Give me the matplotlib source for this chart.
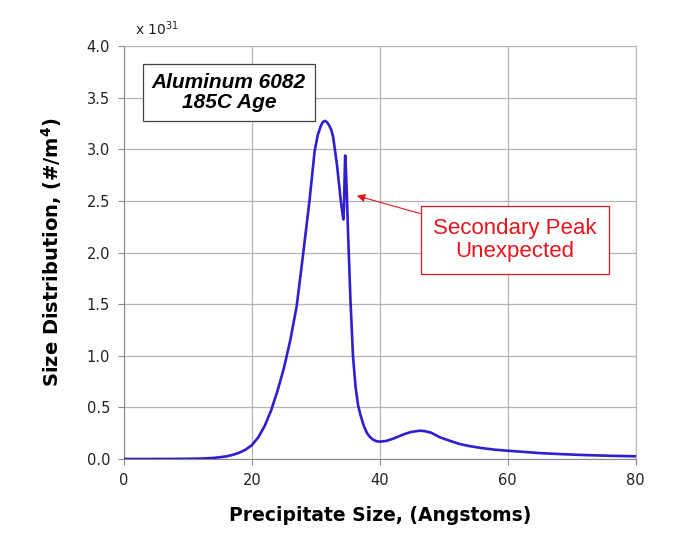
import matplotlib
matplotlib.use("Agg")
import matplotlib.pyplot as plt
import numpy as np

# size (Angstroms) vs distribution (x 1e31 #/m^4)
size = [0, 4, 8, 10, 12, 14, 16, 17, 18, 19, 20, 21, 22, 23, 24, 25, 26, 27,
        28, 29, 29.8, 30.3, 30.8, 31.1, 31.4, 31.7, 32, 32.4, 32.7, 33.3,
        33.9, 34.15, 34.3, 34.4, 34.5, 34.58, 34.7, 34.85, 35.0, 35.4, 35.8,
        36.2, 36.6, 37, 37.5, 38, 38.5, 39, 39.5, 40, 41, 42, 43, 44, 45,
        46.25, 47, 48, 49.4, 51, 52.5, 54, 56, 58, 60, 65, 68, 72, 76, 80]
dist = [0.0, 0.0, 0.001, 0.002, 0.004, 0.01, 0.025, 0.04, 0.06, 0.09, 0.135,
        0.21, 0.32, 0.47, 0.66, 0.88, 1.15, 1.48, 1.98, 2.5, 2.98, 3.14, 3.23,
        3.265, 3.275, 3.265, 3.24, 3.19, 3.12, 2.85, 2.5, 2.38, 2.32, 2.45,
        2.75, 2.94, 2.8, 2.55, 2.25, 1.55, 1.0, 0.7, 0.52, 0.42, 0.32, 0.25,
        0.21, 0.185, 0.172, 0.168, 0.175, 0.195, 0.22, 0.245, 0.263, 0.274,
        0.27, 0.255, 0.21, 0.175, 0.145, 0.125, 0.105, 0.09, 0.08, 0.057,
        0.048, 0.038, 0.031, 0.026]

xticks = [0, 20, 40, 60, 80]
yticks = [0.0, 0.5, 1.0, 1.5, 2.0, 2.5, 3.0, 3.5, 4.0]

fig = plt.figure(figsize=(6.85, 5.55), dpi=100)
ax = fig.add_axes([0.181, 0.173, 0.747, 0.744])

ax.plot(size, dist, color="#2f1fcf", lw=1.9, zorder=3,
        solid_joinstyle="round")

ax.set_xlim(0, 80)
ax.set_ylim(0, 4.0)
ax.set_xticks(xticks)
ax.set_yticks(yticks)
ax.set_yticklabels(["%.1f" % v for v in yticks])
ax.grid(True, color="#b5b5b5", lw=0.9)
for s in ax.spines.values():
    s.set_color("#b5b5b5")
ax.spines["left"].set_color("#888888")
ax.spines["bottom"].set_color("#888888")
ax.tick_params(direction="out", length=4, color="#888888", labelsize=10.5,
               labelcolor="#222222", pad=6)

ax.set_xlabel("Precipitate Size, (Angstoms)", fontsize=13.5, fontweight="bold",
              labelpad=13)
ax.set_ylabel("Size Distribution, (#/m$^{\\mathbf{4}}$)", fontsize=14,
              fontweight="bold", labelpad=16)

fig.text(0.197, 0.937, "x 10$^{31}$", fontsize=10, color="#222222")

ax.text(16.4, 3.55, "Aluminum 6082\n185C Age", ha="center", va="center",
        fontsize=15, fontweight="bold", fontstyle="italic",
        family="Liberation Sans", linespacing=1.05,
        bbox=dict(boxstyle="square,pad=0.42", fc="white", ec="#444444", lw=0.9))

ax.annotate("Secondary Peak\nUnexpected", xy=(36.4, 2.55), xytext=(61.1, 2.12),
            ha="center", va="center", fontsize=16, color="#e8141c",
            family="Liberation Sans", linespacing=1.1,
            bbox=dict(boxstyle="square,pad=0.55", fc="white", ec="#e8141c", lw=0.9),
            arrowprops=dict(arrowstyle="-|>", color="#e8141c", lw=0.8,
                            mutation_scale=12, shrinkA=0, shrinkB=0))

fig.savefig("out.png", dpi=100)
